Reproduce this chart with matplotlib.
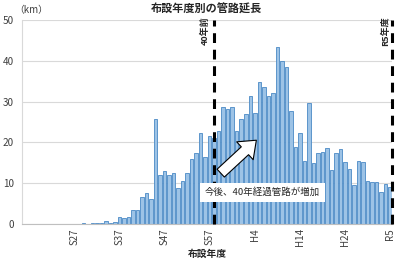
import matplotlib
matplotlib.use("Agg")
import matplotlib.pyplot as plt

plt.rcParams['font.family'] = ['Noto Sans CJK JP', 'DejaVu Sans']

# pipe length (km) per installation-year category (82 categories)
values = [0, 0, 0, 0, 0, 0, 0, 0, 0, 0,
          0, 0, 0, 0.3, 0, 0.15, 0.15, 0.25, 0.65, 0.3,
          0.5, 1.6, 1.5, 1.6, 3.4, 3.4, 6.5, 7.5, 6.0, 25.8,
          12.0, 12.9, 11.9, 12.4, 8.9, 10.5, 12.4, 15.9, 17.4, 22.2,
          16.3, 21.6, 21.0, 22.9, 28.6, 28.2, 28.6, 22.9, 25.7, 27.0,
          31.5, 27.3, 34.7, 33.5, 31.5, 32.2, 43.5, 40.0, 38.6, 27.7,
          18.9, 22.2, 15.4, 29.6, 14.9, 17.3, 17.7, 18.6, 13.2, 17.3,
          18.3, 15.1, 13.4, 9.6, 15.4, 15.1, 10.5, 10.4, 10.3, 7.9,
          9.8, 9.0]
tick_index = [11, 21, 31, 41, 51, 61, 71, 81]
tick_labels = ['S27', 'S37', 'S47', 'S57', 'H4', 'H14', 'H24', 'R5']
line_40yr_index = 42
line_r5_index = 81.5
title = '布設年度別の管路延長'
xlabel = '布設年度'
ylabel = '（km）'
note = '今後、40年経過管路が増加'

fig = plt.figure(figsize=(4.0, 2.61), dpi=100)
ax = fig.add_axes([0.056, 0.142, 0.925, 0.781])

x = list(range(len(values)))
ax.bar(x, values, width=0.78, color='#9DC3E6', edgecolor='#4A89C5', linewidth=0.6, zorder=2)

ax.set_xlim(-0.5, len(values) - 0.5)
ax.set_ylim(0, 50)
ax.set_yticks([0, 10, 20, 30, 40, 50])
ax.yaxis.grid(True, color='#D9D9D9', linewidth=0.8, zorder=0)
ax.set_axisbelow(True)
for s in ['top', 'right']:
    ax.spines[s].set_visible(False)
ax.spines['left'].set_color('#D9D9D9')
ax.spines['bottom'].set_color('#BFBFBF')
ax.tick_params(axis='y', length=0, labelsize=7.2, colors='#404040', pad=6)
ax.set_xticks(tick_index)
ax.set_xticklabels(tick_labels, rotation=90, fontsize=7, color='#404040')
ax.tick_params(axis='x', length=0, pad=3)

ax.set_xlabel(xlabel, fontsize=7, fontweight='bold', color='#262626', labelpad=2)
fig.text(0.517, 0.963, title, ha='center', va='center', fontsize=8, fontweight='bold', color='#262626')
fig.text(0.035, 0.962, ylabel, ha='left', va='center', fontsize=7, color='#404040')

# dashed lines
for xv in [line_40yr_index, line_r5_index]:
    ax.axvline(xv, color='black', linewidth=2.2, linestyle=(0, (3.2, 2.2)), zorder=4, clip_on=False)

ax.text(line_40yr_index - 1.9, 51.0, '40年前', rotation=90, ha='center', va='top', fontsize=6.5,
        fontweight='bold', color='#262626', zorder=5)
ax.text(line_r5_index - 1.6, 51.0, 'R5年度', rotation=90, ha='center', va='top', fontsize=6.5,
        fontweight='bold', color='#262626', zorder=5)

# arrow
ax.annotate('', xy=(51.8, 21.0), xytext=(43.0, 12.0),
            arrowprops=dict(arrowstyle='simple,head_length=0.8,head_width=1.25,tail_width=0.55',
                            mutation_scale=14,
                            facecolor='white', edgecolor='black', linewidth=0.8),
            zorder=6)

# note box
ax.text(40.0, 7.8, note, ha='left', va='center', fontsize=6.8, color='#262626', zorder=7,
        bbox=dict(boxstyle='square,pad=0.5', facecolor='white', edgecolor='none'))

fig.savefig('out.png', dpi=100)
